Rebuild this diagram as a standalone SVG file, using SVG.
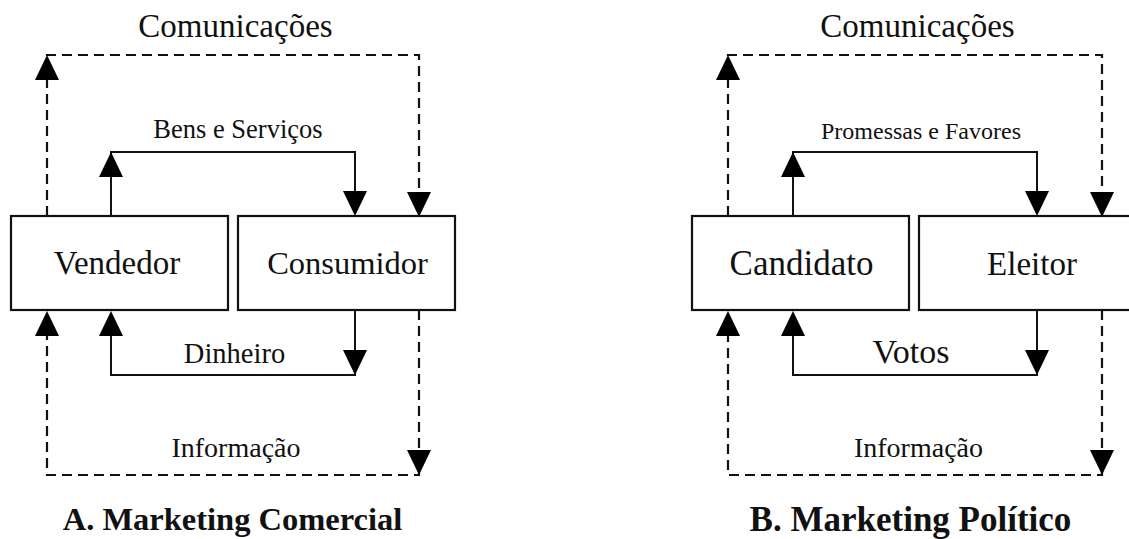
<svg xmlns="http://www.w3.org/2000/svg" width="1129" height="539" viewBox="0 0 1129 539">
<style>
text{font-family:"Liberation Serif","Times New Roman",serif;fill:#111;text-anchor:middle}
.box{fill:#fff;stroke:#111;stroke-width:2.2}
.ln{fill:none;stroke:#111;stroke-width:2}
.dash{fill:none;stroke:#111;stroke-width:2.2;stroke-dasharray:10 6}
.ah{fill:#000}
.title{font-weight:bold}
</style>
<rect width="1129" height="539" fill="#fff"/>
<g id="connectors">
  <path class="dash" d="M47,216 V55 H419 V200"/>
  <polygon class="ah" points="47,55 35,80 59,80"/>
  <polygon class="ah" points="419,217 407,192 431,192"/>
  <path class="ln" d="M111,216 V152 H355 V200"/>
  <polygon class="ah" points="111,152 99,177 123,177"/>
  <polygon class="ah" points="355,216 343,191 367,191"/>
  <path class="ln" d="M355,310 V375 H111 V325"/>
  <polygon class="ah" points="355,375 343,350 367,350"/>
  <polygon class="ah" points="111,311 99,336 123,336"/>
  <path class="dash" d="M419,310 V475 H47 V325"/>
  <polygon class="ah" points="419,475 407,450 431,450"/>
  <polygon class="ah" points="47,311 35,336 59,336"/>
  <path class="dash" d="M728,216 V55 H1102 V200"/>
  <polygon class="ah" points="728,55 716,80 740,80"/>
  <polygon class="ah" points="1102,217 1090,192 1114,192"/>
  <path class="ln" d="M793,216 V152 H1037 V200"/>
  <polygon class="ah" points="793,152 781,177 805,177"/>
  <polygon class="ah" points="1037,216 1025,191 1049,191"/>
  <path class="ln" d="M1037,310 V375 H793 V325"/>
  <polygon class="ah" points="1037,375 1025,350 1049,350"/>
  <polygon class="ah" points="793,311 781,336 805,336"/>
  <path class="dash" d="M1102,310 V475 H728 V325"/>
  <polygon class="ah" points="1102,475 1090,450 1114,450"/>
  <polygon class="ah" points="728,311 716,336 740,336"/>
</g>
<g id="labels">
  <text x="235.5" y="37" font-size="33">Comunicações</text>
  <text x="238" y="138" font-size="26.5">Bens e Serviços</text>
  <text x="234.5" y="363" font-size="28.5">Dinheiro</text>
  <text x="236" y="457" font-size="28">Informação</text>
  <text class="title" x="232.5" y="530" font-size="32.5">A. Marketing Comercial</text>
  <text x="917.5" y="37" font-size="33">Comunicações</text>
  <text x="921" y="139" font-size="24">Promessas e Favores</text>
  <text x="911" y="363" font-size="34">Votos</text>
  <text x="918.5" y="457" font-size="28">Informação</text>
  <text class="title" x="910.5" y="531" font-size="35">B. Marketing Político</text>
</g>
<g id="node-vendedor">
  <rect class="box" x="11" y="216" width="217" height="94"/>
  <text x="117" y="274" font-size="33">Vendedor</text>
</g>
<g id="node-consumidor">
  <rect class="box" x="238" y="216" width="217" height="94"/>
  <text x="347.5" y="274" font-size="32.5">Consumidor</text>
</g>
<g id="node-candidato">
  <rect class="box" x="692" y="216" width="217" height="94"/>
  <text x="801.5" y="275" font-size="35">Candidato</text>
</g>
<g id="node-eleitor">
  <rect class="box" x="919" y="216" width="226" height="94"/>
  <text x="1032" y="275" font-size="33">Eleitor</text>
</g>
</svg>
